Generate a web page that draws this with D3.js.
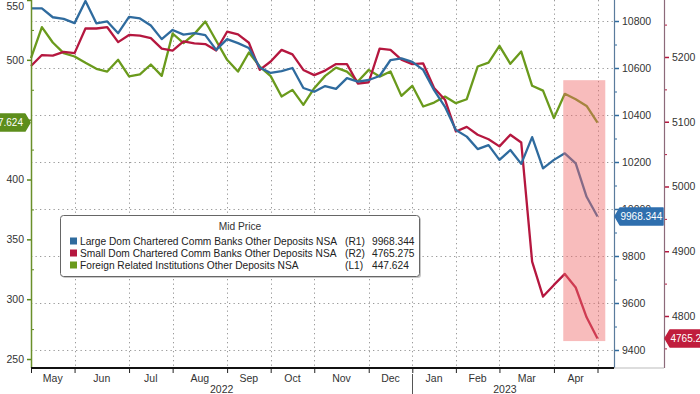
<!DOCTYPE html>
<html>
<head>
<meta charset="utf-8">
<script src="https://cdn.jsdelivr.net/npm/d3@7"></script>
<style>
  body { margin: 0; background: #fff; }
  svg { display: block; font-family: "Liberation Sans", Arial, sans-serif; }
</style>
</head>
<body>
<div id="chart"></div>
<script>
var svgWidth = 700;
var svgHeight = 394;

// weekly observations (Wednesdays), first and last week
var firstWeek = "2022-05-04";
var lastWeek = "2023-05-03";

// Large Dom Chartered Comm Banks Other Deposits NSA (R1)
var largeBanks = [10854, 10854, 10816, 10809, 10791, 10885, 10790, 10798, 10748, 10818,
  10811, 10781, 10723, 10762, 10742, 10748, 10740, 10677, 10723, 10706,
  10685, 10602, 10579, 10587, 10600, 10515, 10499, 10523, 10511, 10557,
  10542, 10549, 10566, 10634, 10641, 10626, 10592, 10506, 10435, 10336,
  10308, 10255, 10272, 10209, 10251, 10192, 10306, 10173, 10209, 10237,
  10194, 10052, 9968.344];

// Small Dom Chartered Comm Banks Other Deposits NSA (R2)
var smallBanks = [5186, 5203, 5202, 5208, 5206, 5244, 5244, 5246, 5223, 5234,
  5233, 5229, 5213, 5210, 5224, 5221, 5220, 5210, 5239, 5235,
  5222, 5180, 5193, 5211, 5204, 5180, 5172, 5179, 5189, 5189,
  5159, 5161, 5213, 5211, 5196, 5189, 5190, 5152, 5134, 5085,
  5092, 5080, 5073, 5062, 5080, 5068, 4884, 4830, 4848, 4865,
  4844, 4798, 4765.275];

// Foreign Related Institutions Other Deposits NSA (L1)
var foreignInst = [501.4, 527.3, 514.5, 505.6, 502.8, 497.5, 492.5, 490.2, 500.0, 486.2,
  487.9, 496.1, 486.6, 522.0, 514.0, 521.7, 532.0, 515.9, 500.0, 490.2,
  506.1, 494.4, 486.4, 469.3, 474.9, 462.4, 476.3, 486.6, 493.5, 490.2,
  481.9, 491.6, 486.0, 490.2, 469.9, 478.3, 461.0, 464.3, 469.3, 463.8,
  467.1, 494.4, 497.7, 511.7, 496.7, 506.9, 478.3, 474.3, 451.3, 471.6,
  467.1, 461.5, 447.624];

var seriesNames = [
  "Large Dom Chartered Comm Banks Other Deposits NSA",
  "Small Dom Chartered Comm Banks Other Deposits NSA",
  "Foreign Related Institutions Other Deposits NSA"
];
var seriesAxes = ["(R1)", "(R2)", "(L1)"];
var lastLabels = ["9968.344", "4765.275", "447.624"];
var seriesColors = ["#2f6b9e", "#b5173f", "#6a9a1c"];

var leftTicks = [250, 300, 350, 400, 450, 500, 550];
var leftMinor = [275, 325, 375, 425, 475, 525];
var r1Ticks = [9400, 9600, 9800, 10000, 10200, 10400, 10600, 10800];
var r1Minor = [9500, 9700, 9900, 10100, 10300, 10500, 10700];
var r2Ticks = [4800, 4900, 5000, 5100, 5200];
var r2Minor = [4750, 4850, 4950, 5050, 5150, 5250];

// shaded period
var shadeStart = "2023-04-11";
var shadeEnd = "2023-05-08";
var shadeLow = 265;
var shadeHigh = 483;

var plotLeft = 31, plotRight = 614, r2Pos = 664, plotBottom = 368;

var parse = d3.utcParse("%Y-%m-%d");
var weeks = d3.utcWednesday.range(parse(firstWeek), d3.utcDay.offset(parse(lastWeek), 1));

var svg = d3.select("#chart").append("svg")
  .attr("width", svgWidth)
  .attr("height", svgHeight);

var x = d3.scaleUtc()
  .domain([weeks[0], weeks[weeks.length - 1]])
  .range([plotLeft, 597.5]);

var yL = d3.scaleLinear().domain([242.5, 550]).range([plotBottom, 0]);
var yR1 = d3.scaleLinear().domain([9323.4, 10889.4]).range([plotBottom, 0]);
var yR2 = d3.scaleLinear().domain([4719.7, 5288]).range([plotBottom, 0]);

// first observation of each month
var monthTicks = weeks.filter(function(d, i) {
  return i === 0 || d.getUTCMonth() !== weeks[i - 1].getUTCMonth();
});

// grid
var grid = svg.append("g")
  .attr("stroke", "#9a9a9a")
  .attr("stroke-dasharray", "1.3,3.2")
  .attr("stroke-width", 1);

grid.selectAll(".hg")
  .data(r1Ticks)
  .enter().append("line")
  .attr("x1", plotLeft).attr("x2", plotRight)
  .attr("y1", d => yR1(d) + 0.5).attr("y2", d => yR1(d) + 0.5);

grid.selectAll(".vg")
  .data(monthTicks.slice(1))
  .enter().append("line")
  .attr("x1", d => Math.round(x(d)) + 0.5).attr("x2", d => Math.round(x(d)) + 0.5)
  .attr("y1", 0).attr("y2", plotBottom);

// lines
var series = [
  { values: foreignInst, scale: yL, color: seriesColors[2] },
  { values: smallBanks, scale: yR2, color: seriesColors[1] },
  { values: largeBanks, scale: yR1, color: seriesColors[0] }
];

series.forEach(function(s) {
  var line = d3.line()
    .x((d, i) => x(weeks[i]))
    .y(d => s.scale(d));
  svg.append("path")
    .datum(s.values)
    .attr("fill", "none")
    .attr("stroke", s.color)
    .attr("stroke-width", 2.3)
    .attr("stroke-linejoin", "round")
    .attr("d", line);
});

// highlight box
svg.append("rect")
  .attr("x", x(parse(shadeStart)))
  .attr("y", yL(shadeHigh))
  .attr("width", x(parse(shadeEnd)) - x(parse(shadeStart)))
  .attr("height", yL(shadeLow) - yL(shadeHigh))
  .attr("fill", "#f06a6a")
  .attr("opacity", 0.45);

// legend
var legend = svg.append("g").attr("transform", "translate(60,215)");
legend.append("rect")
  .attr("x", 2).attr("y", 2).attr("width", 359).attr("height", 61)
  .attr("rx", 3).attr("fill", "#c8c8c8");
legend.append("rect")
  .attr("x", 0.5).attr("y", 0.5).attr("width", 359).attr("height", 61)
  .attr("rx", 3).attr("fill", "#fff").attr("stroke", "#666");
legend.append("text")
  .attr("x", 180).attr("y", 15)
  .attr("text-anchor", "middle")
  .attr("font-size", 10.2)
  .attr("fill", "#333")
  .text("Mid Price");

var rows = legend.selectAll(".row")
  .data(seriesNames)
  .enter().append("g")
  .attr("transform", (d, i) => `translate(0, ${26 + i * 12})`);
rows.append("rect")
  .attr("x", 10).attr("y", -3.5).attr("width", 7).attr("height", 7)
  .attr("fill", (d, i) => seriesColors[i]);
rows.append("text")
  .attr("x", 20).attr("y", 3.8)
  .attr("font-size", 10.2).attr("fill", "#222")
  .text(d => d);
rows.append("text")
  .attr("x", 285).attr("y", 3.8)
  .attr("font-size", 10.2).attr("fill", "#222")
  .text((d, i) => seriesAxes[i]);
rows.append("text")
  .attr("x", 312).attr("y", 3.8)
  .attr("font-size", 10.2).attr("fill", "#222")
  .text((d, i) => lastLabels[i]);

// left axis (L1)
var leftAxis = svg.append("g")
  .attr("transform", `translate(${plotLeft},0)`)
  .call(d3.axisLeft(yL).tickValues(leftTicks).tickSize(4).tickPadding(3));
leftAxis.select(".domain").remove();
leftAxis.selectAll("line").attr("stroke", "#5d8a1a").attr("stroke-width", 1.5);
leftAxis.selectAll("text").attr("font-size", 10.5).attr("fill", "#333")
  .attr("font-family", "Liberation Sans, Arial, sans-serif")
  .attr("dy", d => d === 550 ? "0.88em" : "0.32em");
svg.append("g")
  .attr("transform", `translate(${plotLeft},0)`)
  .call(d3.axisRight(yL).tickValues(leftMinor).tickSize(3).tickFormat(""))
  .call(g => g.select(".domain").remove())
  .selectAll("line").attr("stroke", "#5d8a1a");
svg.append("line")
  .attr("x1", plotLeft + 0.5).attr("x2", plotLeft + 0.5)
  .attr("y1", 0).attr("y2", plotBottom)
  .attr("stroke", "#6a8f2a").attr("stroke-width", 1.5);

// right axis (R1)
var r1Axis = svg.append("g")
  .attr("transform", `translate(${plotRight},0)`)
  .call(d3.axisRight(yR1).tickValues(r1Ticks).tickSize(5).tickPadding(3).tickFormat(d3.format("d")));
r1Axis.select(".domain").remove();
r1Axis.selectAll("line").attr("stroke", "#2f6b9e").attr("stroke-width", 1.5);
r1Axis.selectAll("text").attr("font-size", 10.5).attr("fill", "#333")
  .attr("font-family", "Liberation Sans, Arial, sans-serif");
svg.append("g")
  .attr("transform", `translate(${plotRight},0)`)
  .call(d3.axisRight(yR1).tickValues(r1Minor).tickSize(3).tickFormat(""))
  .call(g => g.select(".domain").remove())
  .selectAll("line").attr("stroke", "#2f6b9e");
svg.append("line")
  .attr("x1", plotRight + 0.5).attr("x2", plotRight + 0.5)
  .attr("y1", 0).attr("y2", plotBottom)
  .attr("stroke", "#5a7b9c").attr("stroke-width", 1.2);

// right axis (R2)
var r2Axis = svg.append("g")
  .attr("transform", `translate(${r2Pos},0)`)
  .call(d3.axisRight(yR2).tickValues(r2Ticks).tickSize(5).tickPadding(3).tickFormat(d3.format("d")));
r2Axis.select(".domain").remove();
r2Axis.selectAll("line").attr("stroke", "#b5173f").attr("stroke-width", 1.5);
r2Axis.selectAll("text").attr("font-size", 10.5).attr("fill", "#333")
  .attr("font-family", "Liberation Sans, Arial, sans-serif");
svg.append("g")
  .attr("transform", `translate(${r2Pos},0)`)
  .call(d3.axisRight(yR2).tickValues(r2Minor).tickSize(3).tickFormat(""))
  .call(g => g.select(".domain").remove())
  .selectAll("line").attr("stroke", "#b5173f");
svg.append("line")
  .attr("x1", r2Pos + 0.5).attr("x2", r2Pos + 0.5)
  .attr("y1", 0).attr("y2", plotBottom)
  .attr("stroke", "#8c6a7a").attr("stroke-width", 1.2);

// bottom axis
svg.append("line")
  .attr("x1", plotRight).attr("x2", r2Pos)
  .attr("y1", plotBottom).attr("y2", plotBottom)
  .attr("stroke", "#bbb");
var xAxis = svg.append("g")
  .attr("transform", `translate(0,${plotBottom})`)
  .call(d3.axisBottom(x).tickValues(monthTicks).tickSize(5).tickFormat(""));
xAxis.select(".domain").remove();
xAxis.selectAll("line").attr("stroke", "#222");
svg.append("line")
  .attr("x1", plotLeft).attr("x2", plotRight)
  .attr("y1", plotBottom).attr("y2", plotBottom)
  .attr("stroke", "#111").attr("stroke-width", 2);

var monthFmt = d3.utcFormat("%b");
svg.selectAll(".month")
  .data(monthTicks.slice(0, -1))
  .enter().append("text")
  .attr("x", (d, i) => (x(d) + x(monthTicks[i + 1])) / 2)
  .attr("y", 382)
  .attr("text-anchor", "middle")
  .attr("font-size", 10.5).attr("fill", "#333")
  .text(d => monthFmt(d));

var yearBreak = monthTicks.find(d => d.getUTCMonth() === 0);
var years = [
  { label: "2022", from: monthTicks[0], to: yearBreak },
  { label: "2023", from: yearBreak, to: monthTicks[monthTicks.length - 1] }
];
svg.selectAll(".year")
  .data(years)
  .enter().append("text")
  .attr("x", d => (x(d.from) + x(d.to)) / 2)
  .attr("y", 393)
  .attr("text-anchor", "middle")
  .attr("font-size", 10.5).attr("fill", "#333")
  .text(d => d.label);
svg.append("line")
  .attr("x1", Math.round(x(yearBreak)) + 0.5).attr("x2", Math.round(x(yearBreak)) + 0.5)
  .attr("y1", 374).attr("y2", svgHeight)
  .attr("stroke", "#555");

// last value tags
function tag(xPos, yPos, dir, width, color, label) {
  var h = 8.5, p = 5;
  var pts = dir > 0
    ? [[xPos, yPos], [xPos + p, yPos - h], [xPos + p + width, yPos - h], [xPos + p + width, yPos + h], [xPos + p, yPos + h]]
    : [[xPos, yPos], [xPos - p, yPos - h], [xPos - p - width, yPos - h], [xPos - p - width, yPos + h], [xPos - p, yPos + h]];
  svg.append("polygon")
    .attr("points", pts.map(q => q.join(",")).join(" "))
    .attr("fill", color)
    .attr("stroke", color)
    .attr("stroke-linejoin", "round")
    .attr("stroke-width", 1.5);
  svg.append("text")
    .attr("x", dir > 0 ? xPos + p + 0.5 : xPos - p - 2)
    .attr("y", yPos + 3.6)
    .attr("text-anchor", dir > 0 ? "start" : "end")
    .attr("font-size", 10)
    .attr("fill", "#fff")
    .text(label);
}
tag(plotRight + 1, yR1(largeBanks[largeBanks.length - 1]), 1, 43, "#2f6fae", lastLabels[0]);
tag(r2Pos + 1, yR2(smallBanks[smallBanks.length - 1]), 1, 46, "#c01d3c", lastLabels[1]);
tag(plotLeft - 1, yL(foreignInst[foreignInst.length - 1]), -1, 46, "#5d8e1c", lastLabels[2]);
</script>
</body>
</html>
